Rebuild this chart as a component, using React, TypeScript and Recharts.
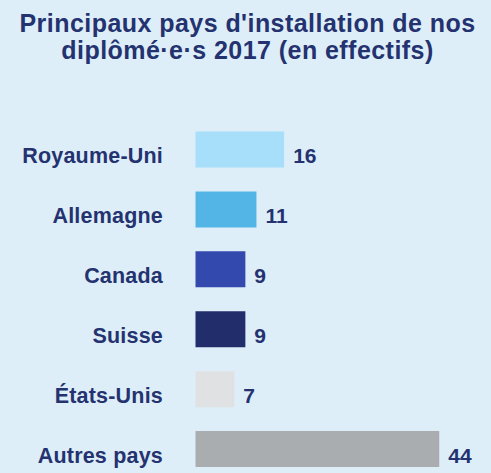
import React from "react";
import { BarChart, Bar, XAxis, YAxis, Cell, LabelList } from "recharts";

const categories = ["Royaume-Uni", "Allemagne", "Canada", "Suisse", "États-Unis", "Autres pays"];
const effectifs = [16, 11, 9, 9, 7, 44];
const barColors = ["#a7defa", "#53b5e5", "#3449ae", "#222d6b", "#e0e1e2", "#a9adb0"];
const titleLines = ["Principaux pays d'installation de nos", "diplômé·e·s 2017 (en effectifs)"];

const data = categories.map((name, i) => ({ name, value: effectifs[i] }));

const TEXT = "#24326f";
const BG = "#ddeef9";
const FONT = "'Liberation Sans', Arial, Helvetica, sans-serif";

const ValueLabel = (props: any) => {
  const { x, y, width, height, value } = props;
  return (
    <text
      x={Number(x) + Number(width) + 9}
      y={Number(y) + Number(height) / 2 + 13.8}
      fill={TEXT}
      fontSize={21}
      fontWeight={700}
      fontFamily={FONT}
      textAnchor="start"
    >
      {value}
    </text>
  );
};

export default function App() {
  return (
    <div
      style={{
        position: "fixed",
        left: 0,
        top: 0,
        width: 491,
        height: 473,
        overflow: "hidden",
        background: BG,
        fontFamily: FONT,
      }}
    >
      <div
        style={{
          position: "absolute",
          top: 10,
          left: 2,
          width: 491,
          textAlign: "center",
          fontSize: 25,
          fontWeight: 700,
          lineHeight: "26.6px",
          letterSpacing: "0.45px",
          color: TEXT,
        }}
      >
        {titleLines.map((l, i) => (
          <div key={i}>{l}</div>
        ))}
      </div>
      <div style={{ position: "absolute", left: 0, top: 0 }}>
        <BarChart
          width={491}
          height={480}
          data={data}
          layout="vertical"
          margin={{ top: 119.55, right: 18.5, bottom: 1.05, left: 0 }}
        >
          <XAxis type="number" domain={[0, 50]} hide />
          <YAxis
            type="category"
            dataKey="name"
            width={195.5}
            axisLine={false}
            tickLine={false}
            tickSize={0}
            tickMargin={32.5}
            interval={0}
            tick={{
              fill: TEXT,
              fontSize: 21.5,
              fontWeight: 700,
              fontFamily: FONT,
              letterSpacing: 0.2,
              dy: 6.3,
            }}
          />
          <Bar dataKey="value" barSize={36} isAnimationActive={false}>
            {data.map((d, i) => (
              <Cell key={d.name} fill={barColors[i]} />
            ))}
            <LabelList dataKey="value" content={ValueLabel} />
          </Bar>
        </BarChart>
      </div>
    </div>
  );
}
